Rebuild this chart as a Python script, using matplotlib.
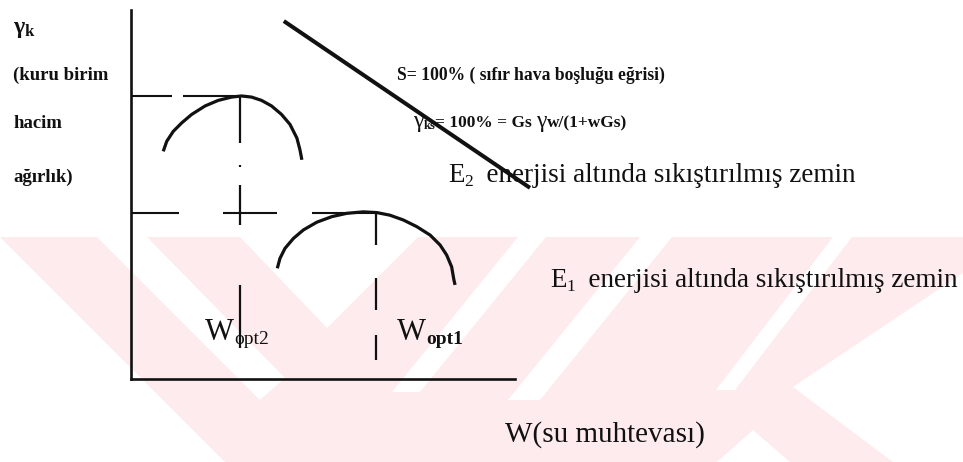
import matplotlib
matplotlib.use("Agg")
import matplotlib.pyplot as plt

# compaction curves (w = water content, g = dry unit weight, arbitrary units)
e2_w = [0.84, 0.93, 1.10, 1.32, 1.58, 1.93, 2.27, 2.62, 2.88, 3.14, 3.40, 3.66, 3.92, 4.14, 4.32, 4.40, 4.45]
e2_g = [6.17, 6.44, 6.71, 6.94, 7.17, 7.40, 7.55, 7.64, 7.67, 7.64, 7.55, 7.40, 7.17, 6.90, 6.53, 6.21, 5.94]
e1_w = [3.81, 3.88, 4.01, 4.23, 4.49, 4.84, 5.23, 5.62, 6.05, 6.40, 6.74, 7.09, 7.44, 7.79, 8.05, 8.22, 8.35, 8.41, 8.44]
e1_g = [3.00, 3.27, 3.54, 3.81, 4.04, 4.25, 4.40, 4.49, 4.53, 4.51, 4.44, 4.31, 4.13, 3.90, 3.63, 3.36, 3.04, 2.68, 2.55]
# zero air voids line (S = 100%)
zav_w = [3.98, 10.39]
zav_g = [9.70, 5.18]
# optimum points
w_opt = [2.84, 6.38]
g_max = [7.67, 4.51]
w_bottom = [0.79, 0.51]

W, H = 963, 462
SERIF = ["Liberation Serif", "DejaVu Serif"]
INK = "#111111"
PINK = "#fdebee"

plt.rcParams["lines.scale_dashes"] = False
fig = plt.figure(figsize=(W / 100, H / 100), dpi=100)
renderer = fig.canvas.get_renderer()

# faint watermark in the background (pixel coordinates)
bg = fig.add_axes([0, 0, 1, 1], zorder=0)
bg.set_xlim(0, W)
bg.set_ylim(H, 0)
bg.axis("off")
bg.fill([0, W, W, 0], [237, 237, H, H], color=PINK, lw=0)
holes = [
    [(0, 237), (225, 462), (0, 462)],
    [(97, 237), (147, 237), (285, 378), (260, 400)],
    [(240, 237), (418, 237), (327, 328)],
    [(518, 237), (546, 237), (420, 392), (392, 392)],
    [(640, 237), (672, 237), (540, 400), (508, 400)],
    [(833, 237), (852, 237), (735, 390), (716, 390)],
    [(793, 387), (963, 273), (963, 462), (893, 462)],
    [(753, 430), (790, 462), (717, 462)],
]
for poly in holes:
    xs, ys = zip(*poly)
    bg.fill(xs, ys, color="white", lw=0)

# main diagram axes
ax = fig.add_axes([131 / W, 1 - 379 / H, 384 / W, 369 / H], zorder=2)
ax.set_xlim(0, 10)
ax.set_ylim(0, 10)
ax.patch.set_alpha(0)
for s in ["top", "right"]:
    ax.spines[s].set_visible(False)
for s in ["left", "bottom"]:
    ax.spines[s].set_linewidth(1.9)
    ax.spines[s].set_color(INK)
ax.set_xticks([])
ax.set_yticks([])

ax.plot(e2_w, e2_g, color=INK, lw=2.3, solid_capstyle="butt", solid_joinstyle="round")
ax.plot(e1_w, e1_g, color=INK, lw=2.3, solid_capstyle="butt", solid_joinstyle="round")
ax.plot(zav_w, zav_g, color=INK, lw=2.9, clip_on=False, solid_capstyle="butt")

px = 0.72  # one pixel in points
h_dash = [[41, 11, 300], [48, 44, 54, 35, 300]]
v_dash = [[47, 22, 2, 18, 40, 60, 63, 100], [32, 33, 32, 25, 25, 100]]
for i in range(2):
    ax.plot([0, w_opt[i]], [g_max[i], g_max[i]], color=INK, lw=1.5,
            linestyle=(0, [d * px for d in h_dash[i]]), dash_capstyle="butt")
    ax.plot([w_opt[i], w_opt[i]], [g_max[i], w_bottom[i]], color=INK, lw=1.6,
            linestyle=(0, [d * px for d in v_dash[i]]), dash_capstyle="butt")


def seq_text(x, y, parts):
    # parts: (string, size, baseline shift in px, weight)
    for s, size, dy, weight in parts:
        t = fig.text(x / W, 1 - (y + dy) / H, s, fontsize=size, fontweight=weight,
                     family=SERIF, va="baseline", ha="left", color=INK, zorder=3)
        x = t.get_window_extent(renderer).x1


seq_text(13, 33, [("γ", 17, 0, "bold"), ("k", 12, 3, "bold")])
seq_text(13, 80, [("(kuru birim", 13.5, 0, "bold")])
seq_text(13, 128, [("hacim", 13.5, 0, "bold")])
seq_text(13, 182, [("ağırlık)", 13.5, 0, "bold")])

seq_text(397, 80, [("S= 100% ( sıfır hava boşluğu eğrisi)", 12.7, 0, "bold")])
seq_text(413, 127, [("γ", 17, 0, "normal"), ("ks", 9, 2, "bold"),
                    ("= 100% = Gs ", 12.5, 0, "bold"), ("γ", 17, 0, "normal"),
                    ("w/(1+wGs)", 12.5, 0, "bold")])

seq_text(448, 182, [("E", 19.5, 0, "normal"), ("2", 12.5, 4, "normal"),
                    ("  enerjisi altında sıkıştırılmış zemin", 19.5, 0, "normal")])
seq_text(550, 287, [("E", 19.5, 0, "normal"), ("1", 12.5, 4, "normal"),
                    ("  enerjisi altında sıkıştırılmış zemin", 19.5, 0, "normal")])

seq_text(205, 340, [("W", 22, 0, "normal"), ("opt2", 14, 4, "normal")])
seq_text(397, 340, [("W", 22, 0, "normal"), ("opt1", 14, 4, "bold")])

seq_text(505, 442, [("W(su muhtevası)", 21, 0, "normal")])

fig.savefig("out.png", dpi=100)
